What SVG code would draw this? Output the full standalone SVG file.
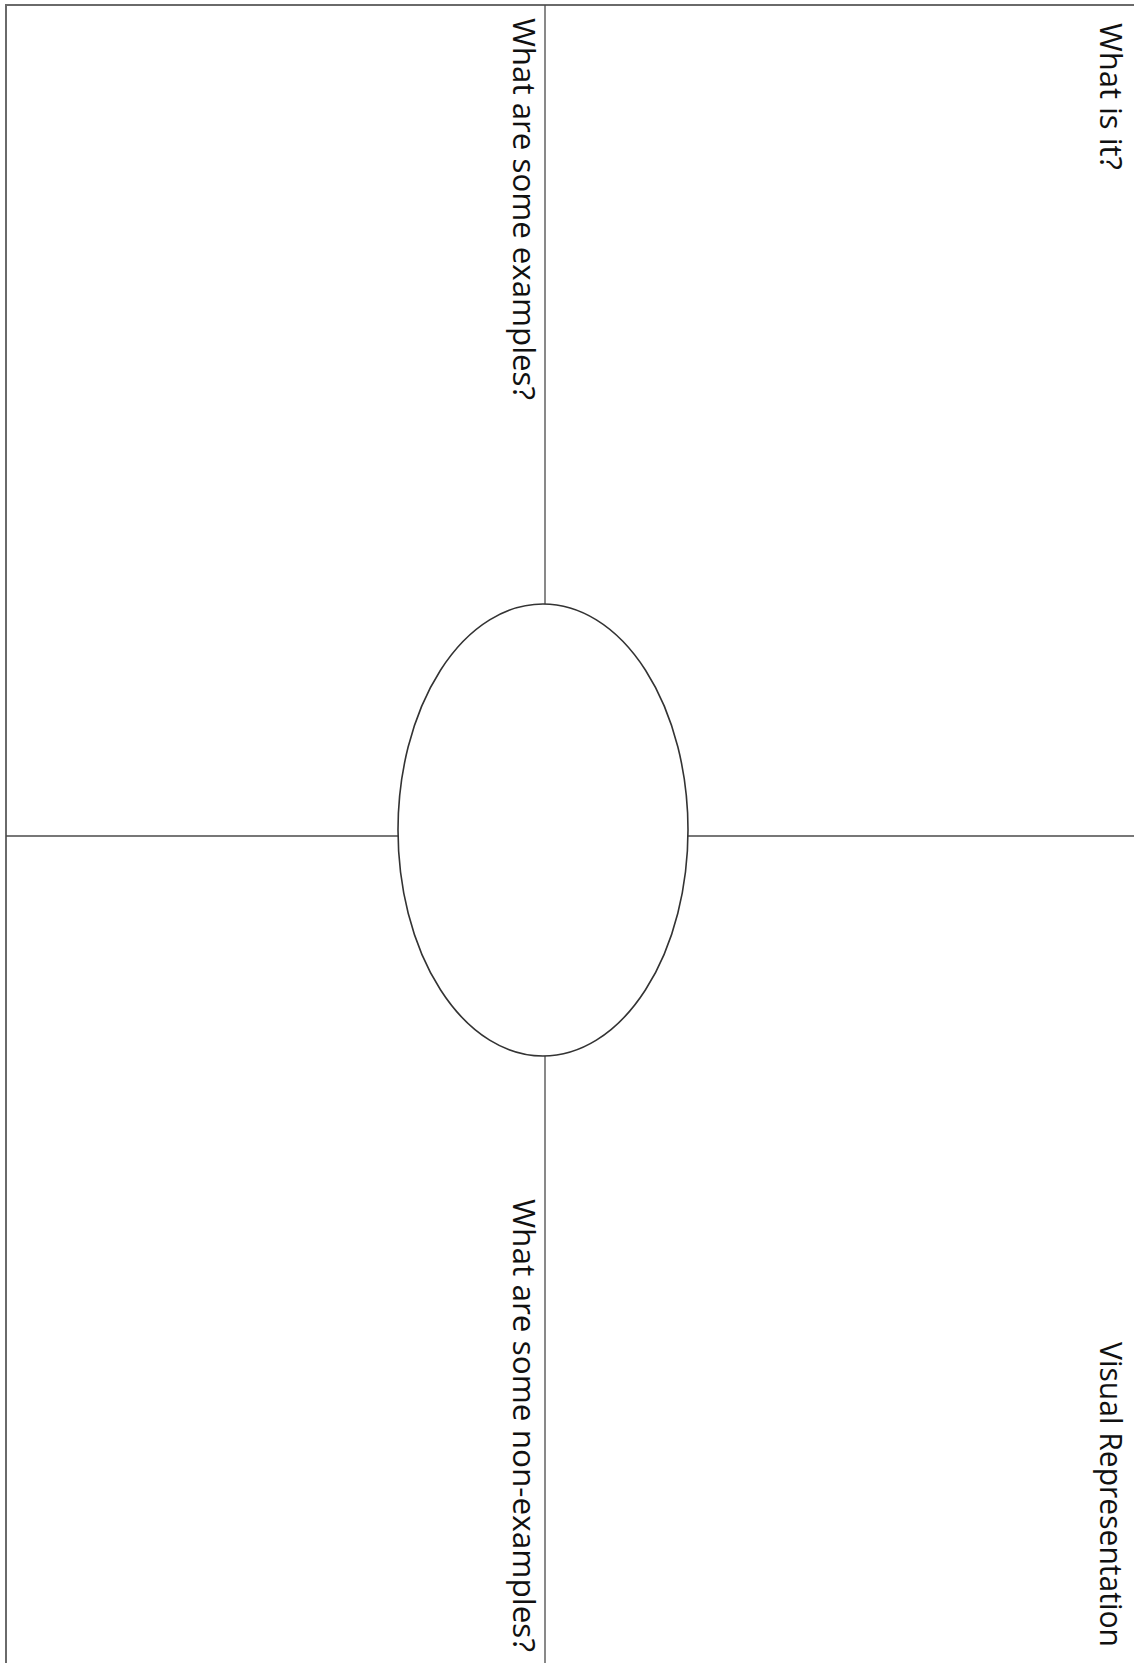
<svg xmlns="http://www.w3.org/2000/svg" width="1134" height="1663" viewBox="0 0 1134 1663">
<style>
.frame{stroke:#6a6a6a;stroke-width:2;fill:none}
.line{stroke:#4a4a4a;stroke-width:1.3;fill:none}
.oval{stroke:#333;stroke-width:1.6;fill:#fff}
.lbl{font-family:"Open Sans","Liberation Sans",sans-serif;font-size:31px;fill:#111}
</style>
<rect width="1134" height="1663" fill="#fff"/>
<g id="frame">
<line class="frame" x1="5" y1="5" x2="1134" y2="5"/>
<line class="frame" x1="6" y1="4" x2="6" y2="1663"/>
</g>
<g id="connectors">
<line class="line" x1="545" y1="5" x2="545" y2="604"/>
<line class="line" x1="545" y1="1056" x2="545" y2="1663"/>
<line class="line" x1="6" y1="836" x2="398" y2="836"/>
<line class="line" x1="688" y1="836" x2="1134" y2="836"/>
</g>
<g id="center">
<ellipse class="oval" cx="543" cy="830" rx="145" ry="226"/>
</g>
<g id="what-is-it">
<text class="lbl" transform="translate(1100,23) rotate(90)" textLength="147" lengthAdjust="spacingAndGlyphs">What is it?</text>
</g>
<g id="examples">
<text class="lbl" transform="translate(513,18) rotate(90)" textLength="382" lengthAdjust="spacingAndGlyphs">What are some examples?</text>
</g>
<g id="non-examples">
<text class="lbl" transform="translate(513,1199) rotate(90)" textLength="453" lengthAdjust="spacingAndGlyphs">What are some non-examples?</text>
</g>
<g id="visual">
<text class="lbl" transform="translate(1100,1342) rotate(90)" textLength="305" lengthAdjust="spacingAndGlyphs">Visual Representation</text>
</g>
</svg>
